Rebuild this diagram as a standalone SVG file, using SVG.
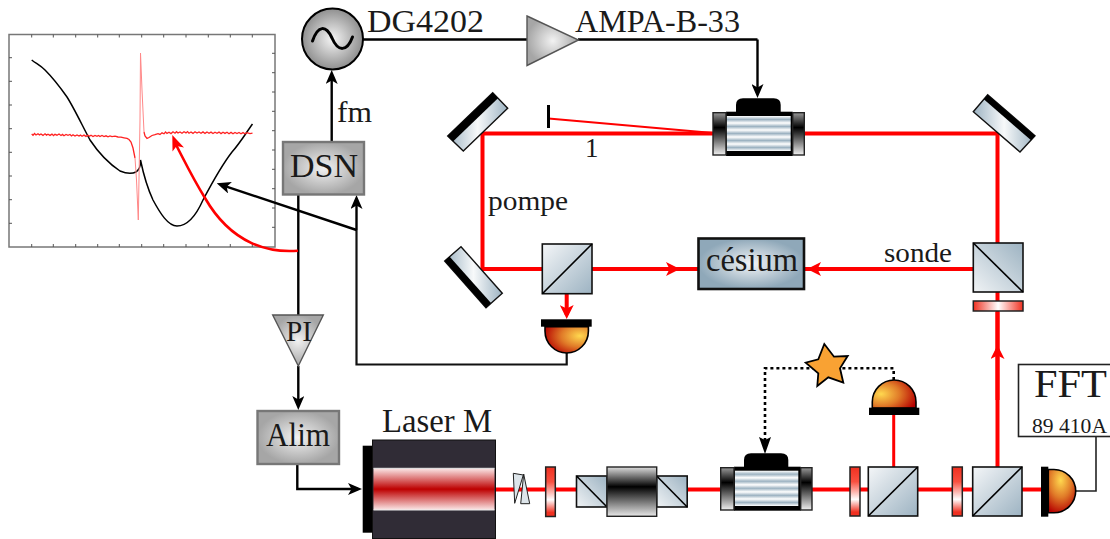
<svg xmlns="http://www.w3.org/2000/svg" width="1110" height="539" viewBox="0 0 1110 539">
<style>
text{font-family:"Liberation Serif","Times New Roman",serif;fill:#1a1a1a}
.w{fill:none;stroke:#111;stroke-width:2.2}
.wa{fill:none;stroke:#000;stroke-width:2.4}
.b{fill:none;stroke:#f00;stroke-width:4}
.bx{fill:url(#grey);stroke:#777;stroke-width:2.4}
.cu{fill:url(#cube);stroke:#111;stroke-width:1.6}
.cr{fill:url(#cubeR);stroke:#111;stroke-width:1.6}
.d{stroke:#000;stroke-width:1.6;fill:none}
.mi{fill:url(#mir);stroke:#111;stroke-width:1.4}
.k{fill:#000}
.wv{fill:url(#wpV);stroke:#222;stroke-width:1.5}
.side{fill:url(#side);stroke:#222;stroke-width:1.4}
.tick{stroke:#555;stroke-width:1;fill:none}
.pr{fill:#dde5ea;stroke:#222;stroke-width:1}
</style>
<defs>
<radialGradient id="grey"><stop offset="0" stop-color="#f2f2f2"/><stop offset="1" stop-color="#a6a6a6"/></radialGradient>
<radialGradient id="gen"><stop offset="0" stop-color="#f5f5f5"/><stop offset="1" stop-color="#8f8f8f"/></radialGradient>
<radialGradient id="ces"><stop offset="0" stop-color="#f2f4f6"/><stop offset="1" stop-color="#8fa8b9"/></radialGradient>
<linearGradient id="cube" x1="0" y1="0" x2="1" y2="1"><stop offset="0" stop-color="#f4f6f8"/><stop offset="1" stop-color="#9db3c2"/></linearGradient>
<linearGradient id="cubeR" x1="1" y1="0" x2="0" y2="1"><stop offset="0" stop-color="#9db3c2"/><stop offset="1" stop-color="#f0f3f5"/></linearGradient>
<linearGradient id="mir" x1="0" y1="0" x2="1" y2="0"><stop offset="0" stop-color="#9db3c2"/><stop offset=".5" stop-color="#f7f9fa"/><stop offset="1" stop-color="#9db3c2"/></linearGradient>
<linearGradient id="wpV" x1="0" y1="0" x2="0" y2="1"><stop offset="0" stop-color="#f03020"/><stop offset=".3" stop-color="#f85040"/><stop offset=".66" stop-color="#fff"/><stop offset=".92" stop-color="#f03020"/></linearGradient>
<linearGradient id="wpH" x1="0" y1="0" x2="1" y2="0"><stop offset="0" stop-color="#f03020"/><stop offset=".5" stop-color="#fff"/><stop offset="1" stop-color="#f03020"/></linearGradient>
<linearGradient id="side" x1="0" y1="0" x2="0" y2="1"><stop offset="0" stop-color="#999"/><stop offset=".35" stop-color="#000"/><stop offset="1" stop-color="#f0f0f0"/></linearGradient>
<linearGradient id="iso" x1="0" y1="0" x2="0" y2="1"><stop offset="0" stop-color="#ddd"/><stop offset=".4" stop-color="#000"/><stop offset="1" stop-color="#e8e8e8"/></linearGradient>
<linearGradient id="stripe" x1="0" y1="0" x2="0" y2=".2" spreadMethod="repeat"><stop offset="0" stop-color="#fff"/><stop offset=".5" stop-color="#9db3c2"/><stop offset="1" stop-color="#fff"/></linearGradient>
<linearGradient id="las" x1="0" y1="0" x2="0" y2="1"><stop offset="0" stop-color="#fbe8e8"/><stop offset=".5" stop-color="#bd0000"/><stop offset="1" stop-color="#fbe8e8"/></linearGradient>
<radialGradient id="dP" cx=".8" cy=".35" r=".85"><stop offset="0" stop-color="#ffd84f"/><stop offset=".5" stop-color="#e07a28"/><stop offset="1" stop-color="#b50000"/></radialGradient>
<radialGradient id="dU" cx=".2" cy=".5" r=".85"><stop offset="0" stop-color="#ffd84f"/><stop offset=".5" stop-color="#e07a28"/><stop offset="1" stop-color="#b50000"/></radialGradient>
<radialGradient id="dR" cx=".45" cy=".25" r=".8"><stop offset="0" stop-color="#ffd84f"/><stop offset=".5" stop-color="#e07a28"/><stop offset="1" stop-color="#b50000"/></radialGradient>
<marker id="ak" markerUnits="userSpaceOnUse" markerWidth="14" markerHeight="12" viewBox="0 0 14 12" refX="10" refY="6" orient="auto"><path d="M14,6 L0,0 L3.5,6 L0,12 Z" fill="#000"/></marker>
<marker id="ar" markerUnits="userSpaceOnUse" markerWidth="14" markerHeight="14" viewBox="0 0 14 14" refX="10" refY="7" orient="auto"><path d="M14,7 L0,0 L3.5,7 L0,14 Z" fill="#f00"/></marker>
</defs>
<rect width="1110" height="539" fill="#fff"/>

<g id="plot">
<rect x="9" y="34.5" width="266" height="212.5" fill="#fff" stroke="#777" stroke-width="1.5"/>
<path class="tick" d="M31.7,247v-3M53.3,247v-3M75.7,247v-3M97.7,247v-3M119.3,247v-3M141.7,247v-3M163.7,247v-3M186,247v-3M208.3,247v-3M230.3,247v-3M252.3,247v-3M31.7,34.5v3M53.3,34.5v3M75.7,34.5v3M97.7,34.5v3M119.3,34.5v3M141.7,34.5v3M163.7,34.5v3M186,34.5v3M208.3,34.5v3M230.3,34.5v3M252.3,34.5v3M9,57.7h3M9,81.3h3M9,105h3M9,128.7h3M9,152.3h3M9,176h3M9,199.7h3M9,223.3h3M275,53.3h-3M275,72.7h-3M275,92h-3M275,111.3h-3M275,130.7h-3M275,150h-3M275,169.3h-3M275,188.7h-3M275,208h-3M275,227.3h-3"/>
<path d="M31.7,60 C37,64 41,66 45,70 C53,78 60,87 67,97 C74,108 82,125 90,140 C98,152 108,163 120,171 C127,174 132,174 136,172 C139,170 141,165 140.5,160 C143,172 146,185 153,200 C160,213 168,226 177,226 C186,226 195,218 203,200 C213,181 222,165 232,152 C240,143 246,133 252.5,124" fill="none" stroke="#000" stroke-width="1.5"/>
<polyline fill="none" stroke="#f22" stroke-width="1.3" points="31.7,134 33,135.3 34.5,133.5 36,135 38,133.7 39.5,134.9 41,134 43,135.4 45,133.8 46.5,135.1 48,134.2 50,135.4 52,134.1 53.5,135.6 55,134.3 57,135.2 59,134 61,135.5 62.5,134.4 64,135.8 66,134.5 68,135.3 70,134.5 71.5,135.9 73,134.7 75,136 77,134.9 79,136.1 80.5,135.1 82,136.3 84,135.1 86,136.4 88,135.3 89.5,136.2 91,135.2 93,136.5 95,135.4 97,136.3 98.5,135.5 100,136.6 102,135.5 104,136.5 106,135.8 108,136.8 110,135.9 112,136.7 115,136.2 118,137 121,137.2 124,137.8 127,138.4 129,139.5 131,142 133,148 135,158"/>
<polyline fill="none" stroke="#f88" stroke-width="1" points="135,158 136.5,180 138.3,220 140,120 140.5,53 142,90 144,132"/>
<polyline fill="none" stroke="#f22" stroke-width="1.3" points="144,132 145,136 147,138.5 149,137.5 152,135.5 155,134.6 158,133.6 160,134.4 162,132.8 164,133.8 165.5,132 167,133.4 169,132.2 171,133.6 173,131.8 175,133.2 176.5,131.7 178,133 180,131.9 182,133.3 184,131.8 186,132.9 187.5,131.6 189,133.2 191,132 193,133.4 195,131.8 197,133 199,132 201,133.3 203,131.9 205,133.4 207,132 209,133.2 211,132.1 213,133.5 215,132.2 217,133.3 219,132.1 221,133.6 223,132.2 225,133.4 227,132.3 229,133.7 231,132.4 233,133.8 235,132.4 237,133.5 239,132.5 241,133.8 243,132.6 245,133.8 247,132.6 250,133.6 252.5,133.2"/>
</g>

<g id="connectors">
<path class="b" d="M713,133.5H482.5V269H542"/>
<path class="b" d="M804,133.5H997.5V243"/>
<path d="M548.5,118.5L713,133" fill="none" stroke="#f00" stroke-width="2"/>
<path class="b" marker-end="url(#ar)" d="M592,269H676"/>
<path class="b" d="M676,269H698"/>
<path class="b" marker-end="url(#ar)" d="M973,269H811"/>
<path class="b" d="M811,269H804"/>
<path class="b" marker-end="url(#ar)" d="M566.7,294V315"/>
<path class="b" d="M997.5,292V301M997.5,311V467"/>
<path class="b" marker-end="url(#ar)" d="M997.5,400V349"/>
<path class="b" d="M997.5,349V312"/>
<path class="b" d="M496,489.5H546M555,489.5H577M687,489.5H721M812,489.5H850M860,489.5H868M918,489.5H952M962,489.5H973M1022,489.5H1041"/>
<path d="M893.7,415V467" fill="none" stroke="#f00" stroke-width="3"/>

<path class="wa" marker-end="url(#ak)" d="M331.7,141V74"/>
<path class="wa" d="M363,39.5H527M578,39.5H757.5"/>
<path class="wa" marker-end="url(#ak)" d="M757.5,39.5V94"/>
<path class="wa" d="M298.3,194V315"/>
<path class="wa" marker-end="url(#ak)" d="M298.3,366V406"/>
<path class="wa" marker-end="url(#ak)" d="M297.3,464V489H358"/>
<path class="w" d="M566.7,353V364.5H356.5V230"/>
<path class="wa" marker-end="url(#ak)" d="M356.5,230V199"/>
<path class="wa" marker-end="url(#ak)" d="M356.5,230L220.5,184.6"/>
<path d="M298,250.7C270,253 232,245 205,198C192,177 184,160 175.6,144" fill="none" stroke="#f00" stroke-width="2.6"/>
<path d="M172.3,135L184,147.5L176.6,146L172.5,151.5Z" fill="#f00"/>
<path d="M1076,491H1096V436" fill="none" stroke="#222" stroke-width="1.6"/>
<path d="M893.7,380V368.3H765V450" fill="none" stroke="#000" stroke-width="2.6" stroke-dasharray="3 3"/>
<path d="M765,454L759,437L765,440L771,437Z" fill="#000"/>
</g>

<g id="generator"><circle cx="332.5" cy="39" r="30.5" fill="url(#gen)" stroke="#000" stroke-width="2"/><path d="M312.5,41C318,25 326,25 332,38C338,52 347,52 352.5,37" fill="none" stroke="#000" stroke-width="3" stroke-linecap="round"/></g>
<g id="amp"><path d="M527,16L578.5,40L527,65.5Z" fill="url(#grey)" stroke="#555" stroke-width="1.4"/></g>
<g id="dsn"><rect class="bx" x="283" y="142" width="81" height="52.5"/><text x="290" y="176.7" font-size="34" textLength="68" lengthAdjust="spacingAndGlyphs">DSN</text></g>
<g id="pi"><path d="M272.7,315H323.3L298.3,366Z" fill="url(#grey)" stroke="#555" stroke-width="1.4"/><text x="286" y="340.7" font-size="29" textLength="26" lengthAdjust="spacingAndGlyphs">PI</text></g>
<g id="alim"><rect class="bx" x="257.5" y="411" width="81.5" height="53"/><text x="266" y="445.7" font-size="34" textLength="64" lengthAdjust="spacingAndGlyphs">Alim</text></g>

<g id="laser">
<rect x="362.7" y="445.7" width="10" height="87" class="k"/>
<rect x="372.5" y="440" width="123" height="98.5" fill="#302c36" stroke="#111" stroke-width="1"/>
<rect x="373.5" y="468.3" width="121" height="41.7" fill="url(#las)"/>
<path d="M373.5,468.3H494.5M373.5,510H494.5" stroke="#e8e8e8" stroke-width="1" fill="none"/>
<text x="382" y="431.7" font-size="33" textLength="110" lengthAdjust="spacingAndGlyphs">Laser M</text>
</g>
<g id="prisms"><path d="M513.3,473.3L523.3,475L514.7,503.3Z" class="pr"/><path d="M523.7,474L529.7,503.7H520.7Z" class="pr"/></g>
<g id="wp1"><rect class="wv" x="545.7" y="467" width="9.6" height="49.5"/></g>
<g id="isolator">
<rect class="cr" x="576.5" y="476" width="30.5" height="31"/><path class="d" d="M576.5,476L607,507"/>
<rect class="cr" x="656.7" y="476" width="30.5" height="31"/><path class="d" d="M656.7,476L687.2,507"/>
<rect x="607" y="467" width="49.7" height="49.3" fill="url(#iso)" stroke="#222" stroke-width="1.4"/>
</g>
<g id="aom-bas">
<path d="M744,467V460Q744,453.3 751,453.3H781Q788.3,453.3 788.3,460V467Z" class="k"/>
<rect x="734" y="466.7" width="66.7" height="44" class="k"/>
<rect x="735" y="470.7" width="63.3" height="35.3" fill="url(#stripe)"/>
<rect class="side" x="720.7" y="467.7" width="13.3" height="42.3"/>
<rect class="side" x="800.7" y="467.7" width="11.3" height="42.3"/>
</g>
<g id="wp2"><rect class="wv" x="850" y="467" width="10" height="49"/></g>
<g id="cube-det"><rect class="cu" x="868.3" y="467" width="49.4" height="49"/><path class="d" d="M868.3,516L917.7,467"/></g>
<g id="wp3"><rect class="wv" x="952.3" y="467" width="10" height="49"/></g>
<g id="cube-sortie"><rect class="cu" x="972.7" y="467" width="49.3" height="49"/><path class="d" d="M972.7,516L1022,467"/></g>
<g id="det-droite"><rect x="1041" y="466.7" width="7.3" height="50" class="k"/><path d="M1048.3,469.5H1054A21.7,21.6 0 0 1 1054,512.7H1048.3Z" fill="url(#dR)" stroke="#000" stroke-width="1.6"/></g>
<g id="fft"><rect x="1018.5" y="364.5" width="95" height="72" fill="#fff" stroke="#222" stroke-width="1.6"/><text x="1034" y="396.7" font-size="41" textLength="73" lengthAdjust="spacingAndGlyphs">FFT</text><text x="1032" y="432.7" font-size="21" textLength="75" lengthAdjust="spacingAndGlyphs">89 410A</text></g>
<g id="det-haut"><path d="M872.3,408V402A21.8,22 0 0 1 916,402V408Z" fill="url(#dU)" stroke="#000" stroke-width="1.6"/><rect x="869" y="407.7" width="50.3" height="7.3" class="k"/></g>
<g id="star"><path d="M824.3,344L834,356.7L847.7,356L840,368.3L843.3,382.7L828.3,377.3L817.3,386L818.3,373.3L805.7,362.7L818.3,359.3Z" fill="#f9a233" stroke="#000" stroke-width="1.8"/></g>

<g id="miroir-1"><path class="mi" d="M492.7,92.7L507.7,108.3L463.3,151L447.7,136Z"/><path class="k" d="M492.7,92.7L498,98.3L453,141.5L447.7,136Z"/></g>
<g id="miroir-2"><path class="mi" d="M461,246.7L502.3,293.3L486,307.7L444.7,261Z"/><path class="k" d="M444.7,261L486,307.7L491,303L449.5,256.5Z"/></g>
<g id="miroir-3"><path class="mi" d="M987.7,94.7L1035,135.7L1020,152L973.3,111.7Z"/><path class="k" d="M987.7,94.7L1035,135.7L1031.1,140.3L983.8,99.3Z"/></g>
<g id="bloqueur"><path d="M548.5,105V128" stroke="#000" stroke-width="3" fill="none"/></g>
<g id="aom-haut">
<path d="M736,112V105Q736,98.3 743,98.3H773.7Q780.7,98.3 780.7,105V112Z" class="k"/>
<rect x="726" y="111.7" width="66.7" height="44.3" class="k"/>
<rect x="726.7" y="116" width="64" height="35" fill="url(#stripe)"/>
<rect class="side" x="713" y="112.7" width="13" height="42.3"/>
<rect class="side" x="792.7" y="112.7" width="11.6" height="42.3"/>
</g>
<g id="cube-pompe"><rect class="cu" x="542.3" y="244" width="49.7" height="49.7"/><path class="d" d="M542.3,293.7L592,244"/></g>
<g id="det-pompe"><rect x="541" y="319.3" width="50.7" height="7.4" class="k"/><path d="M545,326.7V331A21.7,22 0 0 0 588.4,331V326.7Z" fill="url(#dP)" stroke="#000" stroke-width="1.6"/></g>
<g id="cesium"><rect x="698.5" y="238.5" width="105.5" height="50.5" fill="url(#ces)" stroke="#111" stroke-width="2.6"/><text x="706" y="270.7" font-size="34" textLength="92" lengthAdjust="spacingAndGlyphs">césium</text></g>
<g id="cube-sonde"><rect class="cr" x="973.3" y="243" width="49.7" height="49"/><path class="d" d="M973.3,243L1023,292"/></g>
<g id="wp4"><rect x="973.3" y="301" width="49.7" height="10" fill="url(#wpH)" stroke="#222" stroke-width="1.5"/></g>

<g id="labels">
<text x="367" y="32" font-size="31" textLength="117" lengthAdjust="spacingAndGlyphs">DG4202</text>
<text x="575" y="32" font-size="31" textLength="165" lengthAdjust="spacingAndGlyphs">AMPA-B-33</text>
<text x="337" y="121.7" font-size="30" textLength="35" lengthAdjust="spacingAndGlyphs">fm</text>
<text x="585" y="157" font-size="27">1</text>
<text x="488" y="210" font-size="27" textLength="80" lengthAdjust="spacingAndGlyphs">pompe</text>
<text x="884" y="261.5" font-size="27" textLength="68" lengthAdjust="spacingAndGlyphs">sonde</text>
</g>
</svg>
